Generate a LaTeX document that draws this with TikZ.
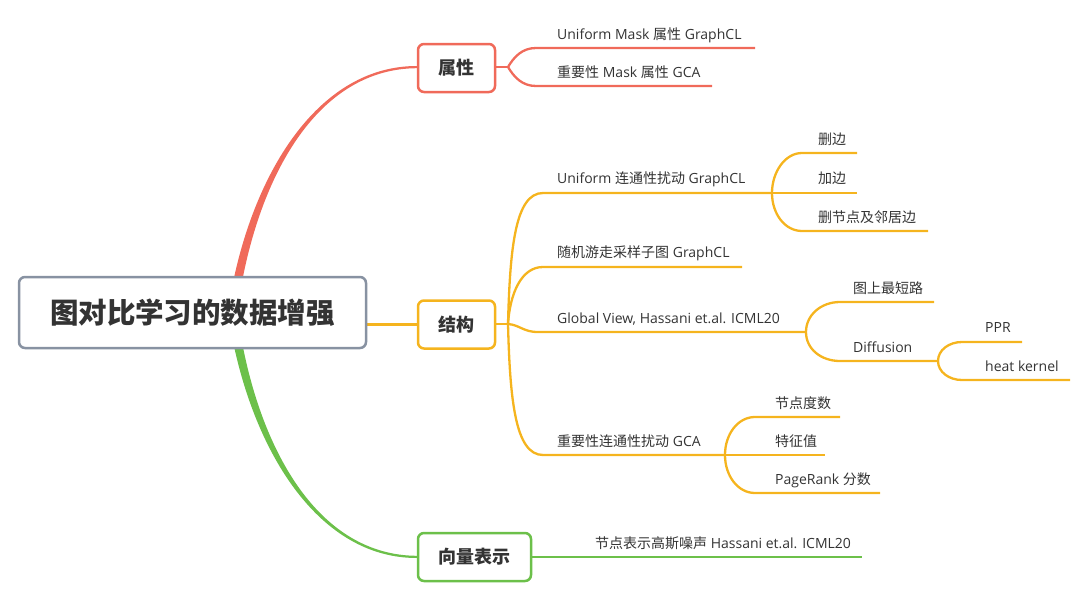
\documentclass[tikz,border=0pt]{standalone}
\usepackage{fontspec}
\setmainfont{Open Sans}
\newfontfamily\cjk{Noto Sans CJK SC}
\usetikzlibrary{calc,backgrounds}
\definecolor{cred}{RGB}{240,106,90}
\definecolor{cyel}{RGB}{245,180,30}
\definecolor{cgrn}{RGB}{108,192,74}
\definecolor{cgray}{RGB}{136,146,162}
\definecolor{ctext}{RGB}{51,51,51}
\begin{document}
\begin{tikzpicture}[x=1pt,y=1pt,
  lbl/.style={anchor=base west, inner sep=0pt, font=\fontsize{14}{16}\selectfont, text=ctext},
  rootbox/.style={draw=cgray, line width=2.5pt, rounded corners=6pt, fill=white,
    minimum width=347pt, minimum height=71pt, inner sep=0pt,
    font=\cjk\bfseries\fontsize{28.5}{32}\selectfont, text=ctext},
  box/.style={draw=#1, line width=2.5pt, rounded corners=6pt, fill=white,
    minimum height=48pt, inner sep=0pt,
    font=\cjk\bfseries\fontsize{18}{20}\selectfont, text=ctext},
  rline/.style={draw=cred, line width=2.3pt, line join=round},
  yline/.style={draw=cyel, line width=2.3pt, line join=round},
  gline/.style={draw=cgrn, line width=2.6pt, line join=round}]
\useasboundingbox (0,0) rectangle (1080,-605);

% main nodes
\node[rootbox] (root) at (192.5,-312.5) {图对比学习的数据增强};
\node[box=cred, minimum width=77pt] (shuxing) at (456.5,-68) {属性};
\node[box=cyel, minimum width=77pt] (jiegou) at (456.5,-324.5) {结构};
\node[box=cgrn, minimum width=113pt] (xiangliang) at (474.5,-557) {向量表示};

% leaf labels
\node[lbl] (a1) at (557,-39) {Uniform Mask {\cjk 属性} GraphCL};
\node[lbl] (a2) at (557,-77) {{\cjk 重要性} Mask {\cjk 属性} GCA};
\node[lbl] (b1) at (557,-183) {Uniform {\cjk 连通性扰动} GraphCL};
\node[lbl] (b2) at (557,-257) {{\cjk 随机游走采样子图} GraphCL};
\node[lbl] (b3) at (557,-323) {Global View, Hassani et.al. ICML20};
\node[lbl] (b4) at (557,-446) {{\cjk 重要性连通性扰动} GCA};
\node[lbl] (c1) at (818,-144) {\cjk 删边};
\node[lbl] (c2) at (818,-183) {\cjk 加边};
\node[lbl] (c3) at (818,-222) {\cjk 删节点及邻居边};
\node[lbl] (d1) at (853,-293) {\cjk 图上最短路};
\node[lbl] (d2) at (853,-352) {Diffusion};
\node[lbl] (e1) at (985,-332) {PPR};
\node[lbl] (e2) at (985,-371) {heat kernel};
\node[lbl] (f1) at (775,-408) {\cjk 节点度数};
\node[lbl] (f2) at (775,-446) {\cjk 特征值};
\node[lbl] (f3) at (775,-484) {PageRank {\cjk 分数}};
\node[lbl] (g1) at (595,-548) {{\cjk 节点表示高斯噪声} Hassani et.al. ICML20};

% coordinates
\coordinate (F1) at (508,-67);
\coordinate (F2) at (508,-324);
\coordinate (a1s) at (536,-48);  \coordinate (a1e) at (755,-48);
\coordinate (a2s) at (536,-86);  \coordinate (a2e) at (712,-86);
\coordinate (b1s) at (543,-193); \coordinate (b1e) at (772,-193);
\coordinate (b2s) at (543,-267); \coordinate (b2e) at (742,-267);
\coordinate (b3s) at (538,-332); \coordinate (b3e) at (806,-332);
\coordinate (b4s) at (543,-455); \coordinate (b4e) at (725,-455);
\coordinate (c1s) at (802,-153); \coordinate (c1e) at (857,-153);
\coordinate (c2e) at (857,-193);
\coordinate (c3s) at (802,-231); \coordinate (c3e) at (928,-231);
\coordinate (d1s) at (840,-302); \coordinate (d1e) at (934,-302);
\coordinate (d2s) at (840,-361); \coordinate (d2e) at (938,-361);
\coordinate (e1s) at (962,-342); \coordinate (e1e) at (1022,-342);
\coordinate (e2s) at (962,-380); \coordinate (e2e) at (1070,-380);
\coordinate (f1s) at (755,-417); \coordinate (f1e) at (840,-417);
\coordinate (f2e) at (825,-455);
\coordinate (f3s) at (755,-493); \coordinate (f3e) at (880,-493);
\coordinate (g1e) at (862,-557);

\begin{scope}[on background layer]
  % root -> branches
  \fill[cred] (231.5,-290) .. controls (254.6,-169.4) and (320,-65.8) .. (417,-66.0)
     -- (417,-68.2) .. controls (320,-68.6) and (261.4,-170.6) .. (240.5,-290) -- cycle;
  \fill[cgrn] (231.5,-334) .. controls (254.6,-454.6) and (320,-558.2) .. (417,-558.0)
     -- (417,-555.8) .. controls (320,-555.4) and (261.4,-453.4) .. (240.5,-334) -- cycle;
  \draw[cyel, line width=3pt] (root.east |- jiegou.west) -- (jiegou.west);

  % 属性
  \draw[rline] (shuxing.east |- F1) -- (F1);
  \draw[rline] (F1) .. controls +(6,10) and +(-14,0) .. (a1s) -- (a1e);
  \draw[rline] (F1) .. controls +(6,-10) and +(-14,0) .. (a2s) -- (a2e);

  % 结构
  \draw[yline] (jiegou.east |- F2) -- (F2);
  \draw[yline] (F2) .. controls +(2,75) and +(-28,0) .. (b1s) -- (b1e);
  \draw[yline] (F2) .. controls +(2,30) and +(-22,0) .. (b2s) -- (b2e);
  \draw[yline] (F2) .. controls +(12,-1) and +(-15,0) .. (b3s) -- (b3e);
  \draw[yline] (F2) .. controls +(2,-75) and +(-28,0) .. (b4s) -- (b4e);

  \draw[yline] (b1e) .. controls +(0,21) and +(-17,0) .. (c1s) -- (c1e);
  \draw[yline] (b1e) -- (c2e);
  \draw[yline] (b1e) .. controls +(0,-21) and +(-17,0) .. (c3s) -- (c3e);

  \draw[yline] (b3e) .. controls +(0,17) and +(-19,0) .. (d1s) -- (d1e);
  \draw[yline] (b3e) .. controls +(0,-17) and +(-19,0) .. (d2s) -- (d2e);

  \draw[yline] (d2e) .. controls +(0,11) and +(-13,0) .. (e1s) -- (e1e);
  \draw[yline] (d2e) .. controls +(0,-11) and +(-13,0) .. (e2s) -- (e2e);

  \draw[yline] (b4e) .. controls +(0,21) and +(-17,0) .. (f1s) -- (f1e);
  \draw[yline] (b4e) -- (f2e);
  \draw[yline] (b4e) .. controls +(0,-21) and +(-17,0) .. (f3s) -- (f3e);

  % 向量表示
  \draw[gline] (xiangliang.east) -- (g1e);
\end{scope}
\end{tikzpicture}
\end{document}
